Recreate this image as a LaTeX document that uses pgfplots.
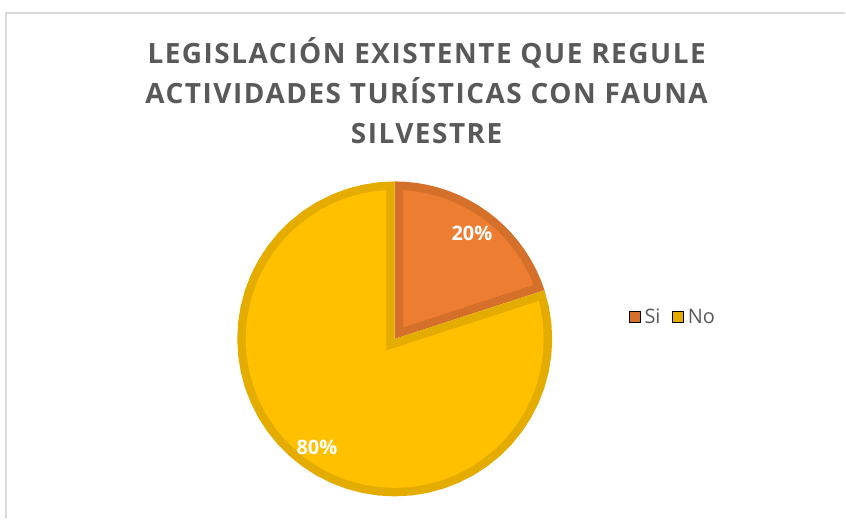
\documentclass[border=0pt]{standalone}
\usepackage{pgfplots}
\pgfplotsset{compat=1.18}
\usepackage{fontspec}
\setmainfont{Open Sans}
\definecolor{orfill}{HTML}{ED7D31}
\definecolor{orline}{HTML}{D5702B}
\definecolor{yefill}{HTML}{FFC000}
\definecolor{yeline}{HTML}{E5AC00}
\definecolor{txt}{HTML}{595959}
\definecolor{framec}{HTML}{D9D9D9}
\begin{document}
\begin{tikzpicture}
\begin{axis}[x=1pt,y=1pt,xmin=-396,xmax=450,ymin=-177,ymax=340,
  hide axis,clip=false,scale only axis,
  legend style={at={(axis cs:235,22)},anchor=west,draw=none,fill=none,inner sep=0pt,
    legend columns=2,font=\fontsize{20}{24}\selectfont\color{txt},
    /tikz/every even column/.append style={column sep=10pt}},
  legend image code/.code={\fill[#1] (0pt,-5.5pt) rectangle (11pt,5.5pt);\path (13pt,0pt);}]
\path (axis cs:-396,-177) rectangle (axis cs:450,340);
\draw[framec,line width=1.5pt] (axis cs:452,327) -- (axis cs:-390,327) -- (axis cs:-390,-180);
% Si (20%)
\addplot[data cs=polar,fill=orline,draw=none,forget plot] coordinates {
(0,0) (90,158) (86,158) (82,158) (78,158) (74,158) (70,158) (66,158) (62,158) (58,158) (54,158) (50,158) (46,158) (42,158) (38,158) (34,158) (30,158) (26,158) (22,158) (18,158)} -- cycle;
% No (80%)
\addplot[data cs=polar,fill=yeline,draw=none,forget plot] coordinates {
(0,0) (90,158) (96,158) (102,158) (108,158) (114,158) (120,158) (126,158) (132,158) (138,158) (144,158) (150,158) (156,158) (162,158) (168,158) (174,158) (180,158) (186,158) (192,158) (198,158) (204,158) (210,158) (216,158) (222,158) (228,158) (234,158) (240,158) (246,158) (252,158) (258,158) (264,158) (270,158) (276,158) (282,158) (288,158) (294,158) (300,158) (306,158) (312,158) (318,158) (324,158) (330,158) (336,158) (342,158) (348,158) (354,158) (360,158) (366,158) (372,158) (378,158)} -- cycle;
\addplot[data cs=polar,fill=orfill,draw=none,forget plot] coordinates {
(54,14.46) (86.74,149.5) (82,149.5) (78,149.5) (74,149.5) (70,149.5) (66,149.5) (62,149.5) (58,149.5) (54,149.5) (50,149.5) (46,149.5) (42,149.5) (38,149.5) (34,149.5) (30,149.5) (26,149.5) (22,149.5) (21.26,149.5)} -- cycle;
\addplot[data cs=polar,fill=yefill,draw=none,forget plot] coordinates {
(234,14.46) (93.26,149.5) (96,149.5) (102,149.5) (108,149.5) (114,149.5) (120,149.5) (126,149.5) (132,149.5) (138,149.5) (144,149.5) (150,149.5) (156,149.5) (162,149.5) (168,149.5) (174,149.5) (180,149.5) (186,149.5) (192,149.5) (198,149.5) (204,149.5) (210,149.5) (216,149.5) (222,149.5) (228,149.5) (234,149.5) (240,149.5) (246,149.5) (252,149.5) (258,149.5) (264,149.5) (270,149.5) (276,149.5) (282,149.5) (288,149.5) (294,149.5) (300,149.5) (306,149.5) (312,149.5) (318,149.5) (324,149.5) (330,149.5) (336,149.5) (342,149.5) (348,149.5) (354,149.5) (360,149.5) (366,149.5) (372,149.5) (374.74,149.5)} -- cycle;
\addlegendimage{fill=orline}
\addlegendentry{Si}
\addlegendimage{fill=yeline}
\addlegendentry{No}
\node[text=white,font=\fontsize{20}{24}\selectfont\bfseries] at (axis cs:77.5,105.5) {20\%};
\node[text=white,font=\fontsize{20}{24}\selectfont\bfseries] at (axis cs:-78,-108.5) {80\%};
\node[align=center,text=txt,font=\fontsize{28}{40}\selectfont\bfseries\addfontfeature{LetterSpace=5.5}] at (axis cs:32,249)
  {LEGISLACIÓN EXISTENTE QUE REGULE\\ACTIVIDADES TURÍSTICAS CON FAUNA\\SILVESTRE};
\end{axis}
\end{tikzpicture}
\end{document}
